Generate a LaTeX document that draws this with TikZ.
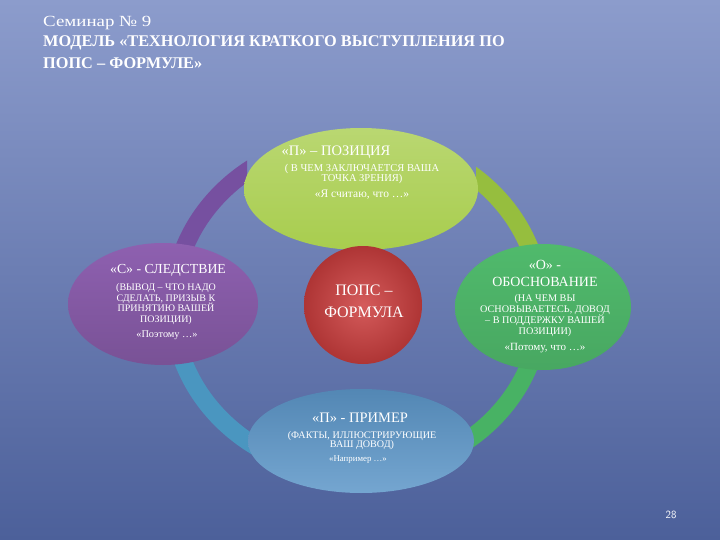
\documentclass[tikz,border=0pt]{standalone}
\usepackage{fontspec}
\setmainfont{Liberation Serif}
\newfontfamily\widefont[FakeStretch=1.22]{Liberation Serif}
\usetikzlibrary{shapes.geometric}
\definecolor{bgtop}{RGB}{140,156,204}
\definecolor{bgbot}{RGB}{76,96,154}
\definecolor{ygreen}{RGB}{168,205,78}
\definecolor{ygreenD}{RGB}{150,190,62}
\definecolor{purp}{RGB}{142,96,176}
\definecolor{purpD}{RGB}{118,80,160}
\definecolor{grn}{RGB}{80,186,108}
\definecolor{grnD}{RGB}{72,178,100}
\definecolor{blu}{RGB}{92,150,200}
\definecolor{bluD}{RGB}{74,150,192}
\definecolor{redc}{RGB}{205,62,62}
\tikzset{
  blob/.style={ellipse, draw=none, inner sep=0pt},
  ring/.style={line width=18pt},
  wtxt/.style={text=white, align=center, inner sep=0pt},
}
\begin{document}
\begin{tikzpicture}[x=1pt,y=-1pt]
\useasboundingbox (0,0) rectangle (720,540);
\shade[top color=bgtop, bottom color=bgbot] (0,0) rectangle (720,540);
% title
\node[anchor=west, text=white, inner sep=0pt, font=\widefont\fontsize{15.5}{17}\selectfont] (t1) at (43,23) {Семинар № 9};
\node[anchor=west, text=white, inner sep=0pt, font=\fontsize{16.3}{18}\selectfont\bfseries] (t2) at (43,43) {МОДЕЛЬ «ТЕХНОЛОГИЯ КРАТКОГО ВЫСТУПЛЕНИЯ ПО};
\node[anchor=west, text=white, inner sep=0pt, font=\fontsize{16.3}{18}\selectfont\bfseries] (t3) at (43,63) {ПОПС – ФОРМУЛЕ»};
% ring
\coordinate (c) at (357,306);
\begin{scope}
\clip (0,0) rectangle (247,540) (361,189) ellipse[x radius=115, y radius=59];
\draw[ring, purpD] (c) ++(180:184 and 168) arc[start angle=180, end angle=270, x radius=184, y radius=168];
\end{scope}
\begin{scope}
\clip (476,0) rectangle (720,540) (361,189) ellipse[x radius=115, y radius=59];
\draw[ring, ygreenD] (c) ++(270:184 and 168) arc[start angle=270, end angle=360, x radius=184, y radius=168];
\end{scope}
\draw[ring, grnD] (c) ++(0:184 and 168) arc[start angle=0, end angle=90, x radius=184, y radius=168];
\draw[ring, bluD] (c) ++(90:184 and 168) arc[start angle=90, end angle=180, x radius=184, y radius=168];
% blobs
\node[blob, minimum width=234pt, minimum height=122pt, top color=ygreen!80!white, bottom color=ygreen] (top) at (361,189) {};
\node[blob, minimum width=190pt, minimum height=122pt, top color=purp, bottom color=purp!85!black] (left) at (163,304) {};
\node[blob, minimum width=176pt, minimum height=126pt, top color=grn, bottom color=grn!90!black] (right) at (543,307) {};
\node[blob, minimum width=226pt, minimum height=104pt, top color=blu!90!black, bottom color=blu!85!white] (bottom) at (361,441) {};
\node[circle, draw=none, minimum size=118pt, inner sep=0pt, inner color=redc!85!white, outer color=redc!85!black] (mid) at (363,305) {};
% top text
\node[wtxt, font=\fontsize{14.5}{16}\selectfont] (th) at (336,152) {«П» – ПОЗИЦИЯ};
\node[wtxt, font=\fontsize{10.5}{10}\selectfont] (tb) at (362,174) {( В ЧЕМ ЗАКЛЮЧАЕТСЯ ВАША\\ТОЧКА ЗРЕНИЯ)};
\node[wtxt, font=\fontsize{11.5}{12}\selectfont] (tq) at (362,195) {«Я считаю, что …»};
% left text
\node[wtxt, font=\fontsize{13.8}{15}\selectfont] (lh) at (168,270) {«С» - СЛЕДСТВИЕ};
\node[wtxt, font=\fontsize{10}{10.7}\selectfont] (lb) at (166,304) {(ВЫВОД – ЧТО НАДО\\СДЕЛАТЬ, ПРИЗЫВ К\\ПРИНЯТИЮ ВАШЕЙ\\ПОЗИЦИИ)};
\node[wtxt, font=\fontsize{10.3}{11}\selectfont] (lq) at (167,335) {«Поэтому …»};
% right text
\node[wtxt, font=\fontsize{14}{17}\selectfont] (rh) at (545,273.5) {«О» -\\ОБОСНОВАНИЕ};
\node[wtxt, font=\fontsize{10.2}{11}\selectfont] (rb) at (545,316) {(НА ЧЕМ ВЫ\\ОСНОВЫВАЕТЕСЬ, ДОВОД\\– В ПОДДЕРЖКУ ВАШЕЙ\\ПОЗИЦИИ)};
\node[wtxt, font=\fontsize{11}{12}\selectfont] (rq) at (545,348) {«Потому, что …»};
% bottom text
\node[wtxt, font=\fontsize{14.5}{16}\selectfont] (bh) at (360,418) {«П» - ПРИМЕР};
\node[wtxt, font=\fontsize{10.1}{9.5}\selectfont] (bb) at (362,440.5) {(ФАКТЫ, ИЛЛЮСТРИРУЮЩИЕ\\ВАШ ДОВОД)};
\node[wtxt, font=\fontsize{8.8}{10}\selectfont] (bq) at (358,460) {«Например …»};
% center
\node[wtxt, font=\fontsize{16}{22}\selectfont] (mt) at (364,301) {ПОПС –\\ФОРМУЛА};
% page number
\node[text=white, inner sep=0pt, font=\sffamily\fontsize{11}{12}\selectfont] (pg) at (671,515) {28};
\end{tikzpicture}
\end{document}
